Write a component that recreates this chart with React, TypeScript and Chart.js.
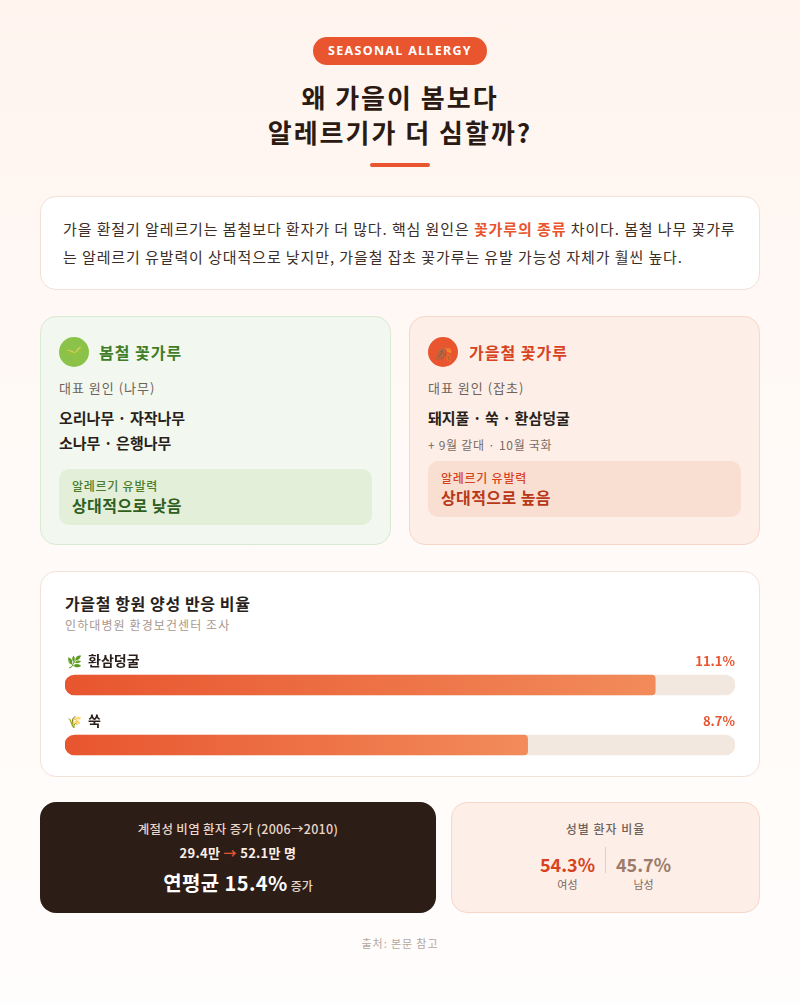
import React, { useEffect, useRef } from "react";
import { Chart, registerables } from "chart.js";

Chart.register(...registerables);

// ---- data ----
const categories = ["환삼덩굴", "쑥"];
const categoryIcons = ["🌿", "🌾"];
const positiveRates = [11.1, 8.7];
const valueLabels = ["11.1%", "8.7%"];
const AXIS_MAX = 12.6;

const springTrees = ["오리나무 · 자작나무", "소나무 · 은행나무"];
const autumnWeeds = ["돼지풀 · 쑥 · 환삼덩굴"];
const patientsFrom = "29.4만";
const patientsTo = "52.1만 명";
const annualGrowth = "15.4%";
const femaleShare = "54.3%";
const maleShare = "45.7%";

const FONT = "'Noto Sans CJK KR', 'Noto Sans', sans-serif";
const ORANGE = "#e8552f";

function PollenChart() {
  const ref = useRef<HTMLCanvasElement>(null);
  useEffect(() => {
    const canvas = ref.current;
    if (!canvas) return;
    const labelPlugin = {
      id: "rowLabels",
      afterDatasetsDraw(chart: any) {
        const ctx = chart.ctx;
        const meta = chart.getDatasetMeta(1);
        const area = chart.chartArea;
        meta.data.forEach((bar: any, i: number) => {
          const y = bar.y - 24;
          ctx.save();
          ctx.textBaseline = "middle";
          ctx.textAlign = "left";
          ctx.font = `12px ${FONT}`;
          ctx.fillStyle = "#6a8a3a";
          ctx.fillText(categoryIcons[i], area.left + 2, y);
          ctx.font = `600 14px ${FONT}`;
          ctx.fillStyle = "#2a1f1a";
          ctx.fillText(categories[i], area.left + 23, y);
          ctx.textAlign = "right";
          ctx.fillStyle = ORANGE;
          ctx.font = `600 13px ${FONT}`;
          ctx.fillText(valueLabels[i], area.right, y);
          ctx.restore();
        });
      },
    };
    const chart = new Chart(canvas, {
      type: "bar",
      data: {
        labels: categories,
        datasets: [
          {
            label: "track",
            data: categories.map(() => AXIS_MAX),
            backgroundColor: "#f3e8e0",
            borderRadius: 10,
            borderSkipped: false,
            barThickness: 20,
            grouped: false,
            order: 2,
          } as any,
          {
            label: "양성 반응 비율",
            data: positiveRates,
            backgroundColor: (c: any) => {
              const ch = c.chart;
              const area = ch.chartArea;
              if (!area || c.type !== "data" || !ch.scales.x) return ORANGE;
              const end = ch.scales.x.getPixelForValue(c.raw);
              const g = ch.ctx.createLinearGradient(area.left, 0, end, 0);
              g.addColorStop(0, "#e8552f");
              g.addColorStop(1, "#f28b5a");
              return g;
            },
            borderRadius: { topLeft: 10, bottomLeft: 10, topRight: 4, bottomRight: 4 },
            borderSkipped: false,
            barThickness: 20,
            grouped: false,
            order: 1,
          } as any,
        ],
      },
      options: {
        indexAxis: "y",
        animation: false,
        responsive: true,
        maintainAspectRatio: false,
        layout: { padding: { top: 10, left: 0, right: 0, bottom: 0 } },
        plugins: { legend: { display: false }, tooltip: { enabled: false } },
        scales: {
          x: { min: 0, max: AXIS_MAX, display: false },
          y: { display: false },
        },
      },
      plugins: [labelPlugin],
    } as any);
    return () => chart.destroy();
  }, []);
  return (
    <div style={{ position: "relative", width: 670, height: 130, marginTop: 12 }}>
      <canvas ref={ref} />
    </div>
  );
}

export default function App() {
  const card: React.CSSProperties = {
    boxSizing: "border-box",
    borderRadius: 16,
  };
  return (
    <div
      style={{
        height: 1003,
        overflow: "hidden",
        boxSizing: "border-box",
        paddingTop: 36,
        background: "linear-gradient(180deg,#fff4ee 0%,#fffaf7 45%,#fffdfc 100%)",
        fontFamily: FONT,
        color: "#2b1a12",
      }}
    >
      <style>{"body{margin:0}"}</style>
      <div style={{ width: 720, margin: "0 auto" }}>
        <div style={{ textAlign: "center", height: 28 }}>
          <span
            style={{
              display: "inline-block",
              height: 28,
              lineHeight: "28px",
              padding: "0 15px",
              borderRadius: 14,
              background: ORANGE,
              color: "#fff",
              fontSize: 12.5,
              fontWeight: 700,
              letterSpacing: 1.3,
              fontFamily: "'Noto Sans', sans-serif",
            }}
          >
            SEASONAL ALLERGY
          </span>
        </div>
        <div
          style={{
            marginTop: 14.5,
            textAlign: "center",
            fontSize: 26,
            fontWeight: 700,
            lineHeight: "35px",
            letterSpacing: 2,
            color: "#2b1a12",
          }}
        >
          왜 가을이 봄보다
          <br />
          알레르기가 더 심할까?
        </div>
        <div style={{ width: 60, height: 4, borderRadius: 2, background: ORANGE, margin: "14.5px auto 0" }} />

        <div
          style={{
            ...card,
            marginTop: 29,
            height: 94,
            background: "#fff",
            border: "1px solid #f3e0d6",
            padding: "18px 22px",
            fontSize: 15,
            lineHeight: "28px",
            letterSpacing: 0.9,
            color: "#3d2e27",
            whiteSpace: "nowrap",
          }}
        >
          가을 환절기 알레르기는 봄철보다 환자가 더 많다. 핵심 원인은{" "}
          <span style={{ color: ORANGE, fontWeight: 600 }}>꽃가루의 종류</span> 차이다. 봄철 나무 꽃가루
          <br />는 알레르기 유발력이 상대적으로 낮지만, 가을철 잡초 꽃가루는 유발 가능성 자체가 훨씬 높다.
        </div>

        <div style={{ display: "flex", gap: 18, marginTop: 26 }}>
          <div
            style={{
              ...card,
              width: 351,
              height: 229,
              background: "#f2f8ef",
              border: "1px solid #d8eacf",
              padding: "20px 18px",
            }}
          >
            <div style={{ display: "flex", alignItems: "center", height: 30 }}>
              <div
                style={{
                  width: 30,
                  height: 30,
                  borderRadius: 15,
                  background: "#8bc34a",
                  display: "flex",
                  alignItems: "center",
                  justifyContent: "center",
                  fontSize: 15,
                }}
              >
                🌱
              </div>
              <div style={{ marginLeft: 10, fontSize: 16, fontWeight: 700, letterSpacing: 1, color: "#3f7d28" }}>봄철 꽃가루</div>
            </div>
            <div style={{ marginTop: 11, fontSize: 13, lineHeight: "20px", letterSpacing: 1, color: "#6f625a" }}>대표 원인 (나무)</div>
            <div style={{ marginTop: 7, fontSize: 15, fontWeight: 600, lineHeight: "25px", color: "#2a1f1a" }}>
              {springTrees.map((t) => (
                <div key={t}>{t}</div>
              ))}
            </div>
            <div style={{ marginTop: 13.5, borderRadius: 10, padding: "9px 13px", background: "#e3efd9" }}>
              <div style={{ fontSize: 12, lineHeight: "16px", fontWeight: 500, letterSpacing: 0.75, color: "#4a7d2c" }}>알레르기 유발력</div>
              <div style={{ fontSize: 16, lineHeight: "22px", fontWeight: 600, letterSpacing: 0.4, color: "#2f5e1d" }}>상대적으로 낮음</div>
            </div>
          </div>

          <div
            style={{
              ...card,
              width: 351,
              height: 229,
              background: "#fdefe7",
              border: "1px solid #f7d7c7",
              padding: "20px 18px",
            }}
          >
            <div style={{ display: "flex", alignItems: "center", height: 30 }}>
              <div
                style={{
                  width: 30,
                  height: 30,
                  borderRadius: 15,
                  background: ORANGE,
                  display: "flex",
                  alignItems: "center",
                  justifyContent: "center",
                  fontSize: 15,
                }}
              >
                🍂
              </div>
              <div style={{ marginLeft: 11, fontSize: 16, fontWeight: 700, letterSpacing: 1, color: "#d8431f" }}>가을철 꽃가루</div>
            </div>
            <div style={{ marginTop: 11, fontSize: 13, lineHeight: "20px", letterSpacing: 1, color: "#6f625a" }}>대표 원인 (잡초)</div>
            <div style={{ marginTop: 7, fontSize: 15, fontWeight: 600, lineHeight: "25px", color: "#2a1f1a" }}>
              {autumnWeeds.map((t) => (
                <div key={t}>{t}</div>
              ))}
            </div>
            <div style={{ marginTop: 5.5, fontSize: 12, lineHeight: "18px", letterSpacing: 0.7, color: "#7a6a62" }}>+ 9월 갈대 · 10월 국화</div>
            <div style={{ marginTop: 7, borderRadius: 10, padding: "9px 13px", background: "#f9dfd2" }}>
              <div style={{ fontSize: 12, lineHeight: "16px", fontWeight: 500, letterSpacing: 0.75, color: "#d8431f" }}>알레르기 유발력</div>
              <div style={{ fontSize: 16, lineHeight: "22px", fontWeight: 600, letterSpacing: 0.4, color: "#b8391a" }}>상대적으로 높음</div>
            </div>
          </div>
        </div>

        <div
          style={{
            ...card,
            marginTop: 26,
            height: 206,
            background: "#fff",
            border: "1px solid #f3e2d9",
            padding: "20px 24px 0",
          }}
        >
          <div style={{ fontSize: 16, fontWeight: 700, lineHeight: "22px", letterSpacing: 0.6, color: "#2a1f1a" }}>가을철 항원 양성 반응 비율</div>
          <div style={{ marginTop: 3, fontSize: 12, lineHeight: "16px", letterSpacing: 1.1, color: "#a89890" }}>인하대병원 환경보건센터 조사</div>
          <PollenChart />
        </div>

        <div style={{ display: "flex", gap: 15, marginTop: 25 }}>
          <div
            style={{
              ...card,
              width: 396,
              height: 111,
              background: "#2c1d17",
              textAlign: "center",
              paddingTop: 18,
            }}
          >
            <div style={{ fontSize: 12.5, lineHeight: "18px", fontWeight: 500, letterSpacing: 0.3, color: "#e9d6c9" }}>
              계절성 비염 환자 증가 (2006→2010)
            </div>
            <div style={{ marginTop: 5, fontSize: 13, lineHeight: "20px", fontWeight: 700, letterSpacing: 0.3, color: "#fbeee5" }}>
              {patientsFrom} <span style={{ color: ORANGE }}>→</span> {patientsTo}
            </div>
            <div style={{ marginTop: 6, lineHeight: "28px", color: "#fff" }}>
              <span style={{ fontSize: 20, fontWeight: 700, letterSpacing: 0.4 }}>연평균 {annualGrowth}</span>
              <span style={{ fontSize: 12, fontWeight: 500, color: "#e9d6c9", marginLeft: 3 }}>증가</span>
            </div>
          </div>
          <div
            style={{
              ...card,
              width: 309,
              height: 111,
              background: "#fdefe7",
              border: "1px solid #f7d7c7",
              textAlign: "center",
              paddingTop: 17,
            }}
          >
            <div style={{ fontSize: 12, lineHeight: "18px", fontWeight: 500, letterSpacing: 1, color: "#6f625a" }}>성별 환자 비율</div>
            <div style={{ display: "flex", justifyContent: "center", marginTop: 14 }}>
              <div style={{ padding: "0 10px" }}>
                <div style={{ fontSize: 18, lineHeight: "24px", fontWeight: 700, color: "#d8431f" }}>{femaleShare}</div>
                <div style={{ fontSize: 11, lineHeight: "16px", color: "#7a6a62" }}>여성</div>
              </div>
              <div style={{ width: 1, height: 26, marginTop: -5, background: "#ebcbbb" }} />
              <div style={{ padding: "0 10px" }}>
                <div style={{ fontSize: 18, lineHeight: "24px", fontWeight: 700, color: "#9c7b6b" }}>{maleShare}</div>
                <div style={{ fontSize: 11, lineHeight: "16px", color: "#7a6a62" }}>남성</div>
              </div>
            </div>
          </div>
        </div>

        <div style={{ marginTop: 22, textAlign: "center", fontSize: 11, lineHeight: "16px", letterSpacing: 0.9, color: "#b3a79f" }}>
          출처: 본문 참고
        </div>
      </div>
    </div>
  );
}
